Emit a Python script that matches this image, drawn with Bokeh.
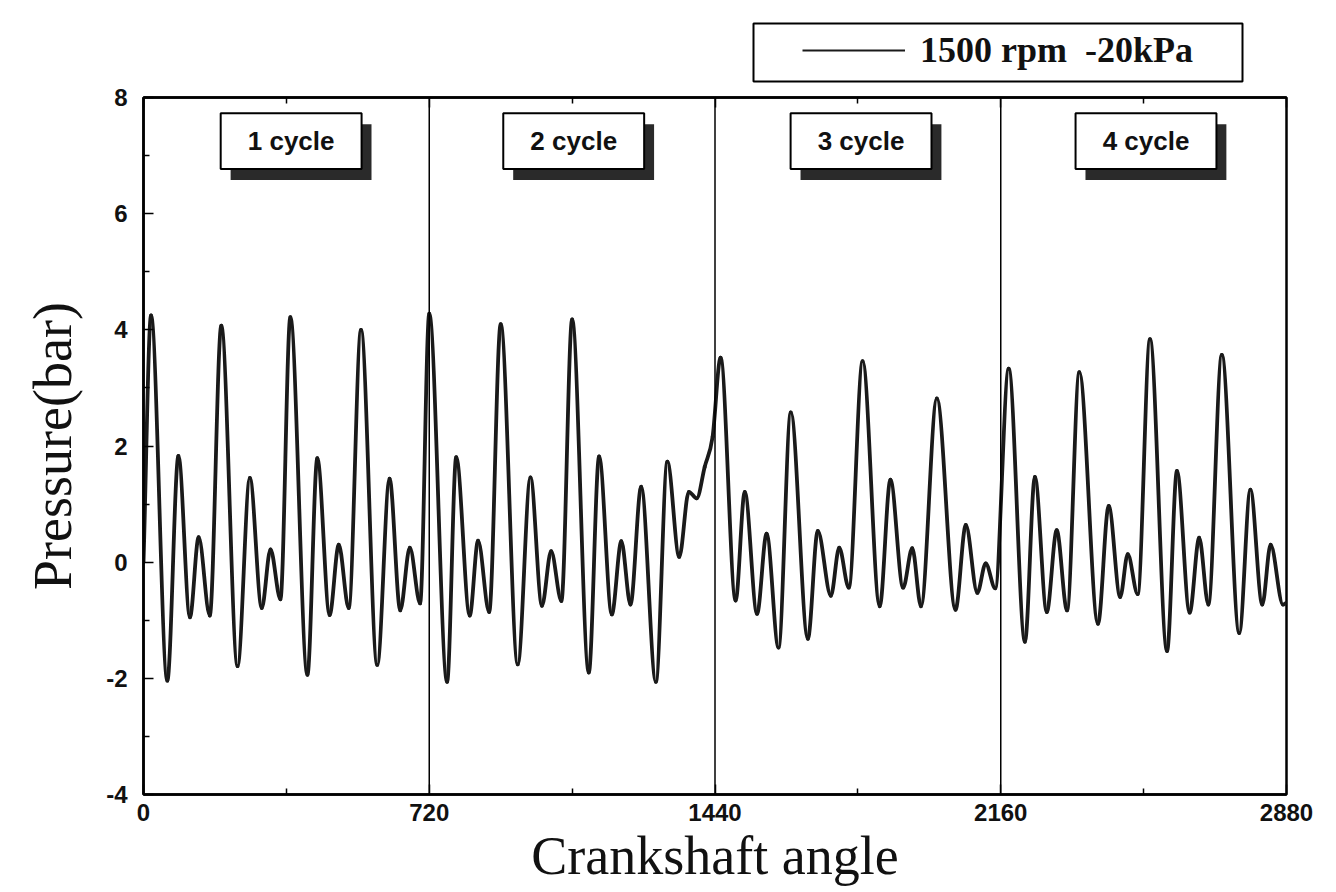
from bokeh.plotting import figure
from bokeh.layouts import column
from bokeh.models import (Range1d, FixedTicker, LinearAxis, Span, Legend,
                          LegendItem, ColumnDataSource)
from bokeh.core.properties import value
from bokeh.embed import file_html
from bokeh.resources import INLINE

# ---- data (turning points of the pressure trace) ----
angle = [0, 19, 60, 88, 117, 139, 167, 196, 237, 268, 298, 320, 345, 370, 413,
         438, 469, 492, 517, 548, 589, 620, 647, 671, 697,
         720, 765, 788, 822, 843, 871, 900, 943, 975, 1004, 1027, 1053, 1080,
         1122, 1148, 1180, 1204, 1227, 1254, 1291, 1320, 1350, 1374, 1394,
         1414, 1434,
         1454, 1492, 1515, 1546, 1570, 1600, 1631, 1674, 1699, 1732, 1753,
         1777, 1812, 1855, 1882, 1914, 1937, 1959, 1999, 2046, 2072, 2101,
         2122, 2146,
         2180, 2221, 2246, 2276, 2301, 2327, 2358, 2405, 2432, 2461, 2480,
         2505, 2536, 2579, 2604, 2636, 2660, 2683, 2717, 2761, 2789, 2819,
         2840, 2871, 2880]
pressure = [0.0, 4.25, -2.04, 1.83, -0.95, 0.43, -0.92, 4.07, -1.79, 1.45,
            -0.79, 0.22, -0.64, 4.22, -1.94, 1.79, -0.91, 0.30, -0.79, 4.00,
            -1.77, 1.44, -0.83, 0.25, -0.71,
            4.28, -2.06, 1.81, -0.92, 0.37, -0.86, 4.10, -1.76, 1.46, -0.75,
            0.19, -0.67, 4.18, -1.90, 1.82, -0.90, 0.36, -0.73, 1.30, -2.06,
            1.73, 0.09, 1.21, 1.10, 1.64, 2.16,
            3.52, -0.66, 1.21, -0.89, 0.49, -1.47, 2.58, -1.32, 0.54, -0.58,
            0.25, -0.44, 3.46, -0.76, 1.42, -0.44, 0.24, -0.76, 2.82, -0.82,
            0.64, -0.53, -0.02, -0.45,
            3.33, -1.37, 1.47, -0.86, 0.55, -0.83, 3.27, -1.06, 0.97, -0.60,
            0.14, -0.55, 3.84, -1.53, 1.57, -0.87, 0.42, -0.73, 3.57, -1.22,
            1.25, -0.73, 0.30, -0.73, -0.70]

x_ticks = [0, 720, 1440, 2160, 2880]
x_minor = [360, 1080, 1800, 2520]
y_ticks = [-4, -2, 0, 2, 4, 6, 8]
y_minor = [-3, -1, 1, 3, 5, 7]
cycle_labels = ["1 cycle", "2 cycle", "3 cycle", "4 cycle"]
cycle_bounds = [720, 1440, 2160]
series_label = "1500 rpm  -20kPa"

# ---- layout constants ----
cycle_centers = [372, 1084, 1808, 2526]
box_y = 7.25
box_w, box_h = 355, 0.96
shadow_dx, shadow_dy = 25, -0.19
TOP_H = 83          # height of the legend strip
FRAME_L, FRAME_R = 143, 1286

# ================= main chart =================
p = figure(width=1336, height=892 - TOP_H,
           x_range=Range1d(0, 2880), y_range=Range1d(-4, 8),
           output_backend="svg", toolbar_location=None,
           min_border_left=FRAME_L, min_border_right=1336 - FRAME_R,
           min_border_top=14, min_border_bottom=98,
           x_axis_label="Crankshaft angle", y_axis_label="Pressure(bar)")
p.grid.visible = False
p.background_fill_color = "white"
p.border_fill_color = "white"
p.outline_line_color = "black"
p.outline_line_width = 2.5

for ax in (p.xaxis[0], p.yaxis[0]):
    ax.axis_line_width = 2.5
    ax.axis_line_color = "black"
    ax.major_tick_in = 10
    ax.major_tick_out = 0
    ax.minor_tick_in = 6
    ax.minor_tick_out = 0
    ax.major_tick_line_width = 1.5
    ax.minor_tick_line_width = 1.5
    ax.major_label_text_font = "Liberation Sans"
    ax.major_label_text_font_style = "bold"
    ax.major_label_text_font_size = "24px"
    ax.major_label_text_color = "#111111"
    ax.axis_label_text_font = "Liberation Serif"
    ax.axis_label_text_font_style = "normal"
    ax.axis_label_text_font_size = "54px"
    ax.axis_label_text_color = "#111111"

p.xaxis[0].ticker = FixedTicker(ticks=x_ticks, minor_ticks=x_minor)
p.yaxis[0].ticker = FixedTicker(ticks=y_ticks, minor_ticks=y_minor)
p.yaxis[0].major_label_overrides = {t: str(t) for t in y_ticks}
p.xaxis[0].major_label_standoff = 9
p.xaxis[0].axis_label_standoff = 2
p.yaxis[0].major_label_standoff = 16
p.yaxis[0].axis_label_standoff = 20

top = LinearAxis(ticker=FixedTicker(ticks=x_ticks, minor_ticks=x_minor),
                 major_label_overrides={t: "" for t in x_ticks},
                 major_label_standoff=0,
                 major_tick_in=10, major_tick_out=0,
                 minor_tick_in=6, minor_tick_out=0,
                 major_tick_line_width=1.5, minor_tick_line_width=1.5,
                 axis_line_width=2.5)
p.add_layout(top, "above")

# cycle separators
for b in cycle_bounds:
    p.add_layout(Span(location=b, dimension="height",
                      line_color="black", line_width=1.5))

# main pressure trace: smooth curve through the read turning points
# (horizontal tangent at each turning point, cubic Bezier pieces)
n = len(angle)
slope = []
for i in range(n):
    if i == 0:
        m = (pressure[1] - pressure[0]) / (angle[1] - angle[0])
    elif i == n - 1:
        m = (pressure[-1] - pressure[-2]) / (angle[-1] - angle[-2])
    elif (pressure[i] - pressure[i - 1]) * (pressure[i + 1] - pressure[i]) <= 0:
        m = 0.0
    else:
        m = (pressure[i + 1] - pressure[i - 1]) / (angle[i + 1] - angle[i - 1])
    slope.append(m)

x0, y0, x1, y1 = angle[:-1], pressure[:-1], angle[1:], pressure[1:]
dx = [b - a for a, b in zip(x0, x1)]
src = ColumnDataSource(data=dict(
    x0=x0, y0=y0, x1=x1, y1=y1,
    cx0=[a + d / 3 for a, d in zip(x0, dx)],
    cy0=[y + m * d / 3 for y, m, d in zip(y0, slope[:-1], dx)],
    cx1=[b - d / 3 for b, d in zip(x1, dx)],
    cy1=[y - m * d / 3 for y, m, d in zip(y1, slope[1:], dx)],
))
trace = p.bezier(x0="x0", y0="y0", x1="x1", y1="y1",
                 cx0="cx0", cy0="cy0", cx1="cx1", cy1="cy1", source=src,
                 line_color="#1a1a1a", line_width=3.8, line_cap="round")

# cycle label boxes with drop shadow
p.rect(x=[c + shadow_dx for c in cycle_centers], y=box_y + shadow_dy,
       width=box_w, height=box_h, fill_color="#2a2a2a", line_color=None)
p.rect(x=cycle_centers, y=box_y, width=box_w, height=box_h,
       fill_color="white", line_color="black", line_width=2)
p.text(x=cycle_centers, y=box_y, text=cycle_labels,
       text_align="center", text_baseline="middle",
       text_font=value("Liberation Sans"), text_font_style="bold",
       text_font_size="26px", text_color="#111111")

# ================= legend strip above the chart =================
# its frame is aligned with the chart frame; data units = page pixels
lg = figure(width=1336, height=TOP_H,
            x_range=Range1d(FRAME_L, FRAME_R), y_range=Range1d(TOP_H, 0),
            x_axis_type=None, y_axis_type=None,
            output_backend="svg", toolbar_location=None,
            min_border_left=FRAME_L, min_border_right=1336 - FRAME_R,
            min_border_top=0, min_border_bottom=0, outline_line_color=None)
lg.background_fill_color = "white"
lg.border_fill_color = "white"
# legend frame box
lg.quad(left=[753], right=[1242], top=[23], bottom=[81],
        fill_color="white", line_color="black", line_width=2)
# key renderer: one undrawable point so the legend can style its sample line
key = lg.line(x=[float("nan")], y=[float("nan")],
              line_color="#1a1a1a", line_width=2)
legend = Legend(items=[LegendItem(label=series_label, renderers=[key])],
                location=(802 - FRAME_L, TOP_H - 71), orientation="vertical",
                padding=0, margin=0, spacing=0,
                glyph_width=103, glyph_height=38,
                label_standoff=15, label_height=38,
                label_text_font="Liberation Serif",
                label_text_font_style="bold",
                label_text_font_size="36px", label_text_color="#111111",
                border_line_color=None, background_fill_alpha=0.0)
lg.add_layout(legend)

layout = column(lg, p, spacing=0)
open("out.html", "w").write(file_html(layout, INLINE))
